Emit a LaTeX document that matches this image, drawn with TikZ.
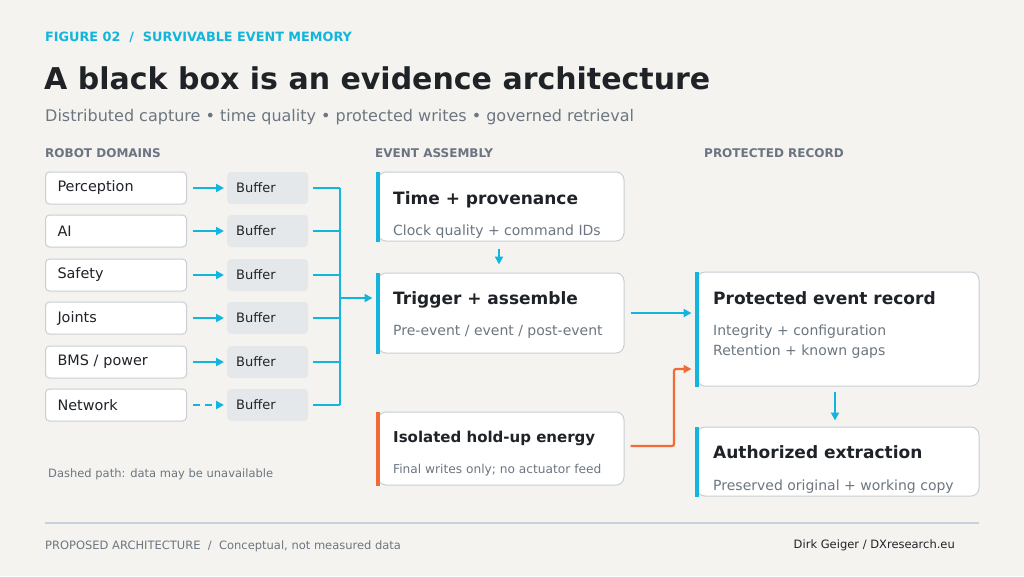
\documentclass[tikz,border=0pt]{standalone}
\usepackage{fontspec}
\setmainfont{DejaVu Sans}
\usetikzlibrary{arrows.meta}
\definecolor{bgc}{HTML}{F4F3F0}
\definecolor{cyanc}{HTML}{12B5DB}
\definecolor{orangec}{HTML}{F26A35}
\definecolor{darkc}{HTML}{1F2328}
\definecolor{grayc}{HTML}{6C7680}
\definecolor{labc}{HTML}{6B7480}
\definecolor{borderc}{HTML}{C9CED4}
\definecolor{bufc}{HTML}{E5E8EB}
\definecolor{rulec}{HTML}{C8D2DA}
\tikzset{
  dombox/.style={draw=borderc, line width=1pt, fill=white, rounded corners=4pt,
    minimum height=32pt, text width=117pt, inner xsep=12pt, align=left,
    font=\fontsize{14.4}{16}\selectfont, text=darkc, anchor=west},
  bufbox/.style={fill=bufc, rounded corners=4pt, minimum height=32pt,
    text width=63pt, inner xsep=9pt, align=left, font=\fontsize{13}{15}\selectfont,
    text=darkc, anchor=west},
  card/.style={draw=borderc, line width=1pt, fill=white, rounded corners=8pt, inner sep=0pt},
  ctitle/.style={anchor=base west, inner sep=0pt, font=\bfseries\fontsize{17}{20}\selectfont, text=darkc},
  csub/.style={anchor=base west, inner sep=0pt, font=\fontsize{14}{16}\selectfont, text=grayc},
  seclab/.style={anchor=base west, inner sep=0pt, font=\bfseries\fontsize{12}{14}\selectfont, text=labc},
  flow/.style={draw=cyanc, line width=2pt, -{Triangle[length=8pt,width=8pt]}},
  bus/.style={draw=cyanc, line width=1.8pt},
  hold/.style={draw=orangec, line width=2.2pt, -{Triangle[length=8pt,width=8pt]}},
  small/.style={anchor=base west, inner sep=0pt, text=grayc, font=\fontsize{11.5}{13}\selectfont},
}
\begin{document}
\begin{tikzpicture}[x=1pt,y=-1pt]
\useasboundingbox (0,0) rectangle (1024,576);
\fill[bgc] (0,0) rectangle (1024,576);

% header
\node[anchor=base west, inner sep=0pt, text=cyanc, font=\bfseries\fontsize{12.8}{15}\selectfont] (fig) at (45,41) {FIGURE 02\ \ /\ \ SURVIVABLE EVENT MEMORY};
\node[anchor=base west, inner sep=0pt, text=darkc, font=\bfseries\fontsize{30}{34}\selectfont] (title) at (44,89) {A black box is an evidence architecture};
\node[anchor=base west, inner sep=0pt, text=grayc, font=\fontsize{16}{20}\selectfont] (subt) at (45,121) {Distributed capture • time quality • protected writes • governed retrieval};

\node[seclab] (l1) at (45,157) {ROBOT DOMAINS};
\node[seclab] (l2) at (375,157) {EVENT ASSEMBLY};
\node[seclab] (l3) at (704,157) {PROTECTED RECORD};

% domains and buffers
\node[dombox] (d1) at (45,188) {Perception};
\node[dombox] (d2) at (45,231) {AI};
\node[dombox] (d3) at (45,275) {Safety};
\node[dombox] (d4) at (45,318) {Joints};
\node[dombox] (d5) at (45,362) {BMS / power};
\node[dombox] (d6) at (45,405) {Network};
\foreach \i/\y in {1/188, 2/231, 3/275, 4/318, 5/362, 6/405}{
  \node[bufbox] (b\i) at (227,\y) {Buffer};
}
\foreach \i in {1,...,5}{
  \draw[flow, shorten <=6pt, shorten >=3pt] (d\i) -- (b\i);
}
\draw[flow, dashed, dash pattern=on 7pt off 5pt, shorten <=6pt, shorten >=3pt] (d6) -- (b6);

\coordinate (busc) at (340,298);
\foreach \i in {1,...,6}{
  \draw[bus, shorten <=5pt] (b\i.east) -- (b\i.east -| busc);
}
\draw[bus] (b1.east -| busc) -- (b6.east -| busc);

% middle cards
\node[card, minimum width=246pt, minimum height=69pt] (tp) at (501,206.5) {};
\node[card, minimum width=246pt, minimum height=80pt] (ta) at (501,313) {};
\node[card, minimum width=246pt, minimum height=73pt] (he) at (501,448.5) {};
\fill[cyanc] ([xshift=-1.5pt]tp.north west) rectangle ([xshift=2.5pt]tp.south west);
\fill[cyanc] ([xshift=-1.5pt]ta.north west) rectangle ([xshift=2.5pt]ta.south west);
\fill[orangec] ([xshift=-1.5pt]he.north west) rectangle ([xshift=2.5pt]he.south west);

\node[ctitle] (tpt) at (393,204) {Time + provenance};
\node[csub] (tps) at (393,235) {Clock quality + command IDs};
\node[ctitle] (tat) at (393,304) {Trigger + assemble};
\node[csub] (tas) at (393,335) {Pre-event / event / post-event};
\node[ctitle, font=\bfseries\fontsize{15}{18}\selectfont] (het) at (393,442) {Isolated hold-up energy};
\node[csub, font=\fontsize{12.2}{15}\selectfont] (hes) at (393,473) {Final writes only; no actuator feed};

% right cards
\node[card, minimum width=282pt, minimum height=114pt] (pr) at (838,329) {};
\node[card, minimum width=282pt, minimum height=69pt] (ax) at (838,461.5) {};
\fill[cyanc] ([xshift=-1.5pt]pr.north west) rectangle ([xshift=2.5pt]pr.south west);
\fill[cyanc] ([xshift=-1.5pt]ax.north west) rectangle ([xshift=2.5pt]ax.south west);

\node[ctitle] (prt) at (713,304) {Protected event record};
\node[csub] (prs1) at (713,335) {Integrity + configuration};
\node[csub] (prs2) at (713,355) {Retention + known gaps};
\node[ctitle] (axt) at (713,458) {Authorized extraction};
\node[csub] (axs) at (713,490) {Preserved original + working copy};

% connectors
\coordinate (ax1) at (499,0);
\coordinate (ax2) at (835,0);
\draw[flow, shorten >=5pt] (busc) -- (busc -| ta.west);
\draw[flow, shorten <=7pt, shorten >=8pt] (tp.south -| ax1) -- (ta.north -| ax1);
\draw[flow, shorten <=6pt, shorten >=5pt] (ta.east) -- (ta.east -| pr.west);
\coordinate (oc) at (674,446);
\coordinate (ot) at (674,369);
\draw[hold, rounded corners=2pt, shorten <=6pt, shorten >=5pt] (he.east |- oc) -- (oc) -- (ot) -- (ot -| pr.west);
\draw[flow, shorten <=5pt, shorten >=6pt] (pr.south -| ax2) -- (ax.north -| ax2);

% notes and footer
\node[small] (note) at (48,477) {Dashed path: data may be unavailable};
\coordinate (rl) at (45,523);
\coordinate (rr) at (979,523);
\draw[rulec, line width=1.3pt] (rl) -- (rr);
\node[small] (foot) at (45,549) {PROPOSED ARCHITECTURE\ \ /\ \ Conceptual, not measured data};
\node[small, anchor=base east, text=darkc] (auth) at (955,548) {Dirk Geiger / DXresearch.eu};
\end{tikzpicture}
\end{document}
